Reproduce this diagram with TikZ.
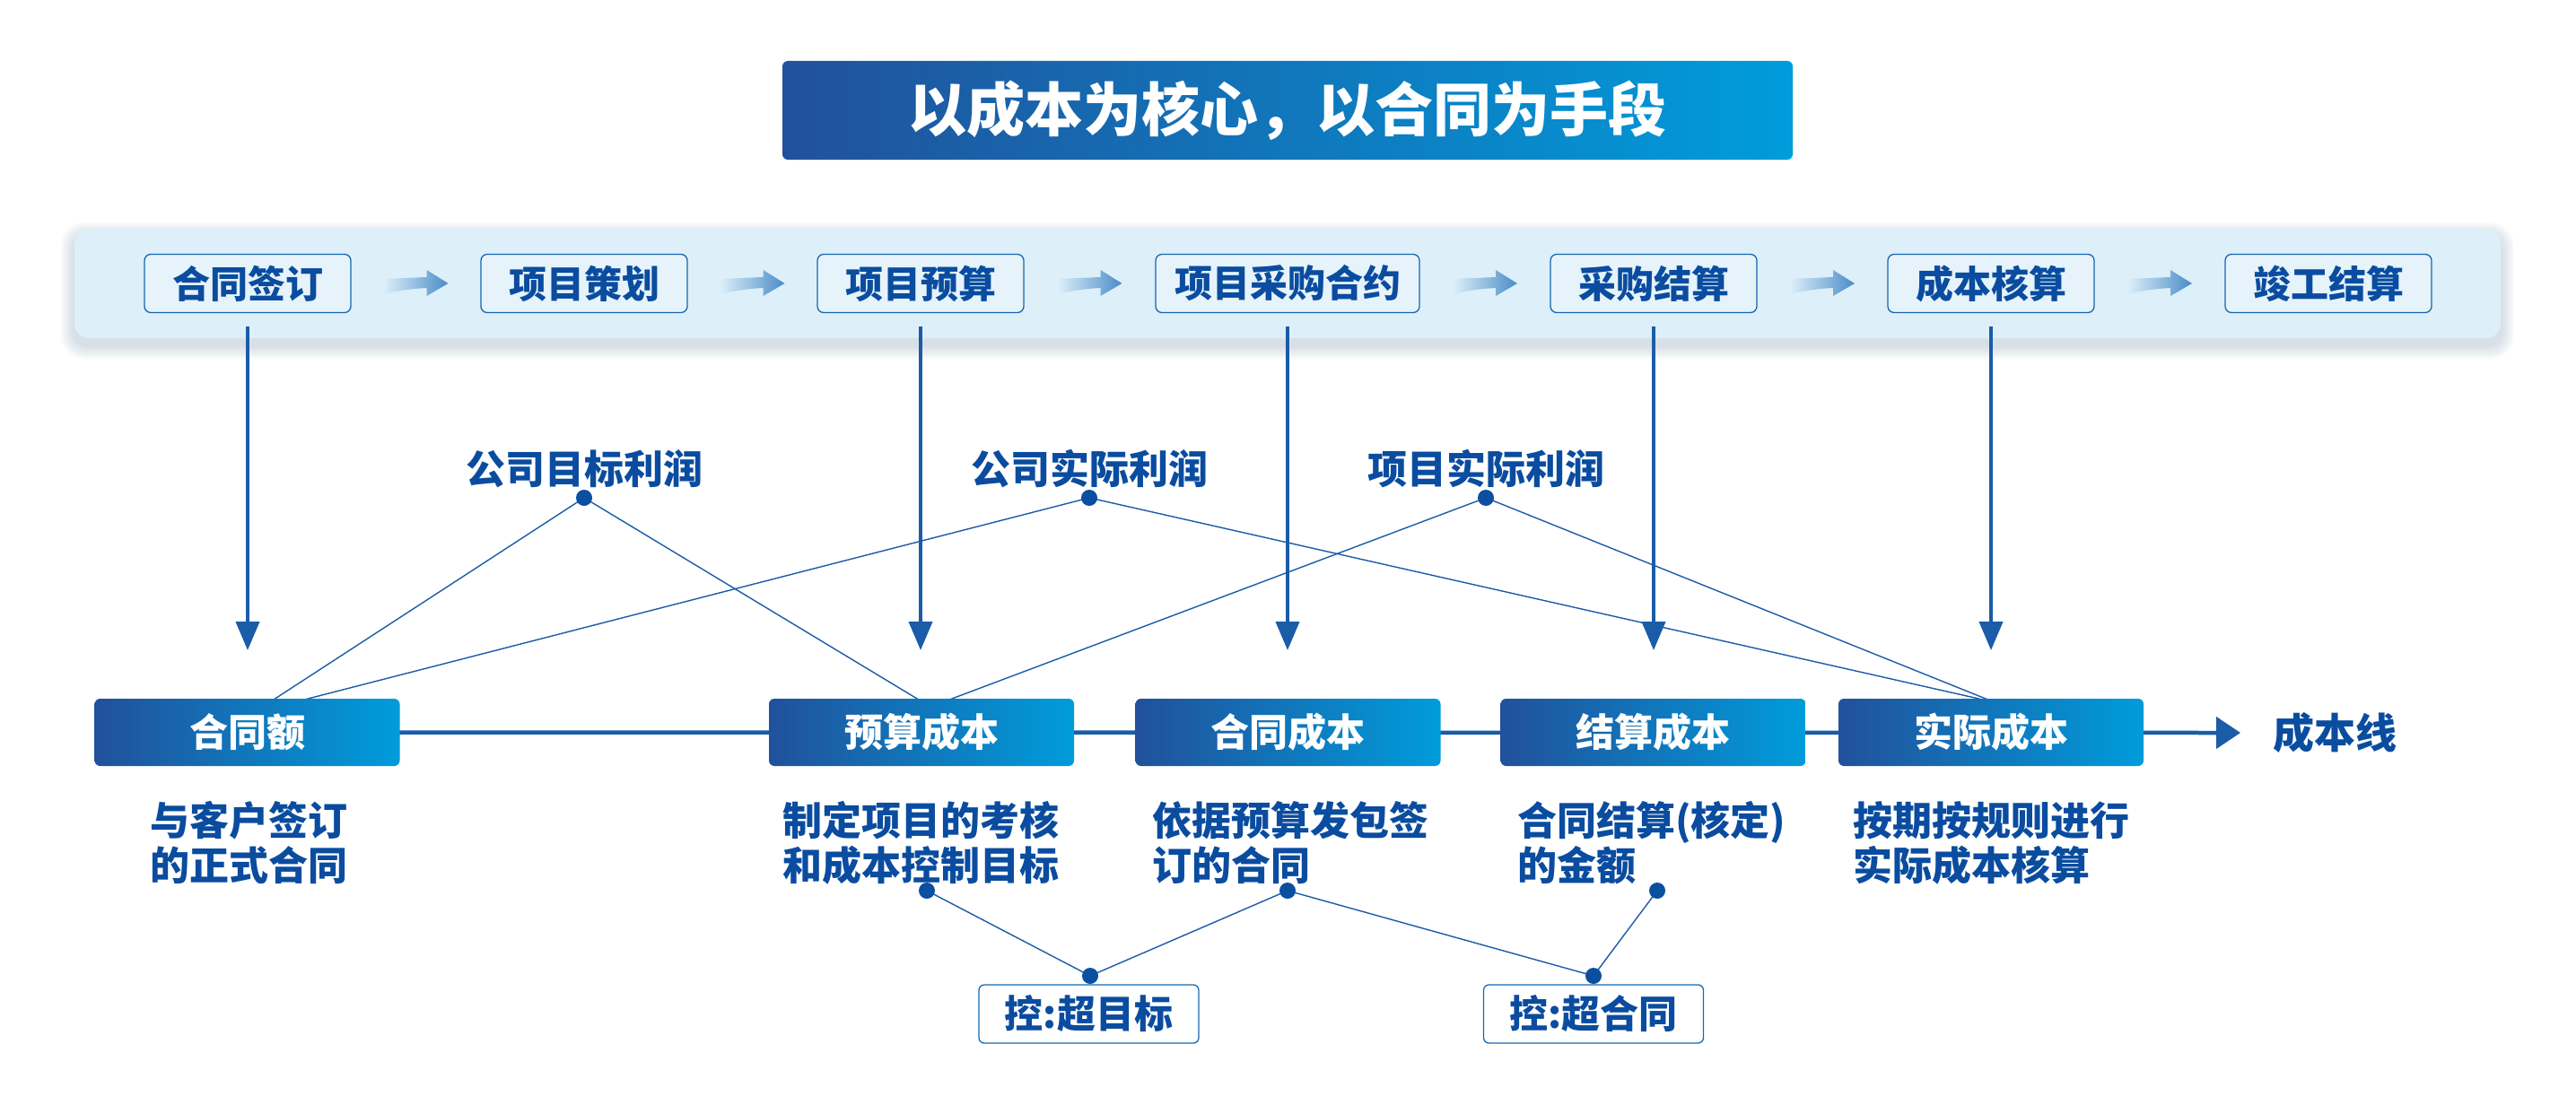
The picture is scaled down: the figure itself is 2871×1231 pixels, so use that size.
\documentclass[tikz,border=0pt]{standalone}
\usepackage{fontspec}
\setmainfont{Noto Sans CJK SC}
\usetikzlibrary{arrows.meta,calc,backgrounds}
\definecolor{dkblue}{HTML}{21519B}
\definecolor{cyanb}{HTML}{009CDB}
\definecolor{txtblue}{HTML}{0A4C9F}
\definecolor{lineblue}{HTML}{1A5CA8}
\definecolor{bandblue}{HTML}{DDEFF9}
\definecolor{boxfill}{HTML}{E6F3FA}
\definecolor{arrowblue}{HTML}{4A8CC8}
\definecolor{dotblue}{HTML}{0B4FA0}
\definecolor{shadowc}{HTML}{9DB3C4}
\tikzset{
  topbox/.style={draw=lineblue!85!cyanb, line width=1.3pt, fill=boxfill, rounded corners=7pt,
    minimum width=230pt, minimum height=65pt, inner sep=0pt,
    font=\fontsize{42}{48}\selectfont\bfseries, text=txtblue},
  botbox/.style={left color=dkblue, right color=cyanb, rounded corners=6pt,
    minimum width=340pt, minimum height=75pt, inner sep=0pt,
    font=\fontsize{43}{48}\selectfont\bfseries, text=white},
  desc/.style={anchor=north west, align=left, inner sep=0pt,
    font=\fontsize{44}{50}\selectfont\bfseries, text=txtblue},
  lbl/.style={inner sep=0pt, font=\fontsize{44}{50}\selectfont\bfseries, text=txtblue},
  ctrlbox/.style={draw=lineblue!80!cyanb, line width=1.3pt, fill=white, rounded corners=6pt,
    minimum width=245pt, minimum height=65pt, inner sep=0pt,
    font=\fontsize{43}{48}\selectfont\bfseries, text=txtblue},
  dotnode/.style={circle, fill=dotblue, inner sep=0pt, minimum size=18pt},
  thin/.style={draw=lineblue, line width=1.4pt},
  varrow/.style={draw=lineblue, line width=4pt, -{Triangle[width=26pt,length=32pt]}},
  flowarrow/.pic={
    \shade[left color=bandblue, right color=arrowblue]
      (-36,-5) -- (12,-7) -- (12,-15) -- (36,0) -- (12,14) -- (12,5)
      .. controls (-8,6) and (-24,9) .. (-36,12) -- cycle;
  }
}
\begin{document}
\begin{tikzpicture}[x=1pt,y=-1pt]
\useasboundingbox (0,0) rectangle (2871,1231);
\begin{pgfonlayer}{background}
\fill[white] (0,0) rectangle (2871,1231);
\end{pgfonlayer}

% title
\node[left color=dkblue, right color=cyanb, rounded corners=6pt, minimum width=1126pt,
  minimum height=110pt, inner sep=0pt, text=white, font=\fontsize{65}{70}\selectfont\bfseries]
  (title) at (1435,123) {以成本为核心，以合同为手段};

% band soft shadow
\foreach \i in {1,...,10} {
  \fill[shadowc, opacity=0.045, rounded corners={16pt+\i pt}]
    ({83-\i*1.5},{263-\i*1.5}) rectangle ({2787+\i*1.5},{385+\i*1.5});
}
% band
\node[fill=bandblue, rounded corners=16pt, minimum width=2704pt, minimum height=122pt]
  (band) at (1435,316) {};

% top boxes
\node[topbox] (t1) at (276,316) {合同签订};
\node[topbox] (t2) at (651,316) {项目策划};
\node[topbox] (t3) at (1026,316) {项目预算};
\node[topbox, minimum width=294pt] (t4) at (1435,316) {项目采购合约};
\node[topbox] (t5) at (1843,316) {采购结算};
\node[topbox] (t6) at (2219,316) {成本核算};
\node[topbox] (t7) at (2595,316) {竣工结算};

\path ($(t1.east)!0.5!(t2.west)$) pic {flowarrow};
\path ($(t2.east)!0.5!(t3.west)$) pic {flowarrow};
\path ($(t3.east)!0.5!(t4.west)$) pic {flowarrow};
\path ($(t4.east)!0.5!(t5.west)$) pic {flowarrow};
\path ($(t5.east)!0.5!(t6.west)$) pic {flowarrow};
\path ($(t6.east)!0.5!(t7.west)$) pic {flowarrow};

% bottom boxes
\node[botbox] (b1) at (275.5,816.5) {合同额};
\node[botbox] (b2) at (1027,816.5) {预算成本};
\node[botbox] (b3) at (1435.5,816.5) {合同成本};
\node[botbox] (b4) at (1842.5,816.5) {结算成本};
\node[botbox] (b5) at (2219,816.5) {实际成本};
\node[inner sep=0pt, font=\fontsize{46}{50}\selectfont\bfseries, text=txtblue] (line) at (2602,817) {成本线};
\coordinate (tip) at (2497,817);

% vertical arrows
\draw[varrow] ([yshift=-15pt]t1.south) -- (t1.south |- 0,725);
\draw[varrow] ([yshift=-15pt]t3.south) -- (t3.south |- 0,725);
\draw[varrow] ([yshift=-15pt]t4.south) -- (t4.south |- 0,725);
\draw[varrow] ([yshift=-15pt]t5.south) -- (t5.south |- 0,725);
\draw[varrow] ([yshift=-15pt]t6.south) -- (t6.south |- 0,725);

% profit labels
\node[lbl] (p1) at (651,523) {公司目标利润};
\node[lbl] (p2) at (1214,523) {公司实际利润};
\node[lbl] (p3) at (1656,523) {项目实际利润};
\node[dotnode] (d1) at (651,555) {};
\node[dotnode] (d2) at (1214,555) {};
\node[dotnode] (d3) at (1656,555) {};

\coordinate (b1a) at (285,793);
\coordinate (b1b) at (316,786);
\coordinate (b2a) at (1037,788);
\coordinate (b5a) at (2223,783);

% descriptions
\node[desc] (s1) at (167,893) {与客户签订\\的正式合同};
\node[desc] (s2) at (872,893) {制定项目的考核\\和成本控制目标};
\node[desc] (s3) at (1284,893) {依据预算发包签\\订的合同};
\node[desc] (s4) at (1691,893) {合同结算(核定)\\的金额};
\node[desc] (s5) at (2065,893) {按期按规则进行\\实际成本核算};

% control boxes
\node[ctrlbox] (c1) at (1213.5,1130.5) {控:超目标};
\node[ctrlbox] (c2) at (1776,1130.5) {控:超合同};
\node[dotnode] (e1) at (1033,993) {};
\node[dotnode] (e2) at (1435,993) {};
\node[dotnode] (e3) at (1847,993) {};
\node[dotnode] (f1) at (1215,1088) {};
\node[dotnode] (f2) at (1776,1088) {};

\begin{pgfonlayer}{background}
  \draw[draw=lineblue, line width=4.5pt, -{Triangle[width=35pt,length=27pt]}] (b1.center) -- (tip);
  \draw[thin] (d1.center) -- (b1a);
  \draw[thin] (d1.center) -- (b2a);
  \draw[thin] (d2.center) -- (b1b);
  \draw[thin] (d2.center) -- (b5a);
  \draw[thin] (d3.center) -- (b2a);
  \draw[thin] (d3.center) -- (b5a);
  \draw[thin] (e1.center) -- (f1.center);
  \draw[thin] (e2.center) -- (f1.center);
  \draw[thin] (e2.center) -- (f2.center);
  \draw[thin] (e3.center) -- (f2.center);
\end{pgfonlayer}
\end{tikzpicture}
\end{document}
